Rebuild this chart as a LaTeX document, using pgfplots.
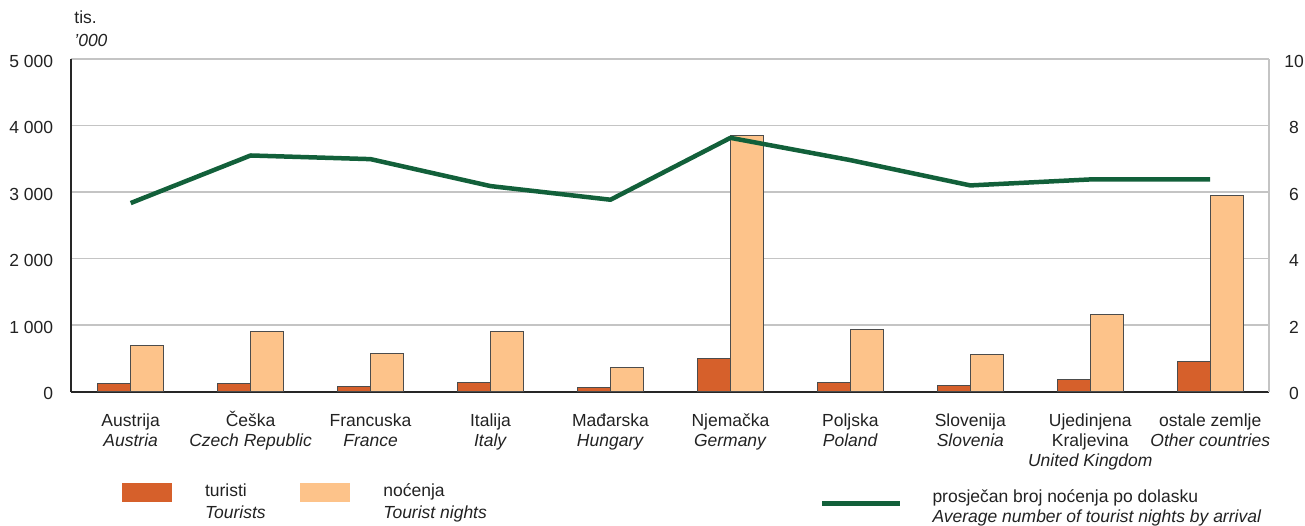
\documentclass[border=0pt]{standalone}
\usepackage{fontspec}
\setmainfont{Liberation Sans}
\usepackage{pgfplots}
\pgfplotsset{compat=1.18}
\definecolor{tourist}{HTML}{D6602B}
\definecolor{nights}{HTML}{FDC38A}
\definecolor{avgline}{HTML}{12603A}
\definecolor{gridgray}{HTML}{C4C4C4}
\definecolor{txt}{HTML}{222222}
\newcommand\fl{\rule{0pt}{17pt}}
\newcommand\ld{\rule[-5pt]{0pt}{5pt}}
\begin{document}
\begin{tikzpicture}
\useasboundingbox (-70.7pt,-134.3pt) rectangle (1234.3pt,391.7pt);
\begin{axis}[
  at={(0,0)}, anchor=south west,
  scale only axis, width=1198.3pt, height=332.7pt,
  xmin=-0.5, xmax=9.49, ymin=0, ymax=5000,
  axis x line*=bottom, axis y line*=left,
  axis line style={line width=2pt, black!85, -},
  major tick length=0pt,
  ytick={0,1000,2000,3000,4000,5000},
  yticklabels={0,1 000,2 000,3 000,4 000,5 000},
  ymajorgrids, grid style={gridgray, line width=1.5pt},
  yticklabel style={font=\fontsize{17.5}{20}\selectfont, text=txt, inner sep=0pt, anchor=east, xshift=-17.4pt, yshift=-2pt},
  xtick={0,...,9},
  xticklabels={
    {\fl Austrija\\\textit{Austria}},
    {\fl Češka\\\textit{Czech Republic}},
    {\fl Francuska\\\textit{France}},
    {\fl Italija\\\textit{Italy}},
    {\fl Mađarska\\\textit{Hungary}},
    {\fl Njemačka\\\textit{Germany}},
    {\fl Poljska\\\textit{Poland}},
    {\fl Slovenija\\\textit{Slovenia}},
    {\fl Ujedinjena\\Kraljevina\\\textit{United Kingdom}},
    {\fl ostale zemlje\\\textit{Other countries}}},
  xticklabel style={font=\fontsize{17.5}{20}\selectfont, text=txt, align=center, inner sep=0pt, anchor=north, yshift=-17.3pt},
  title={tis.\\\textit{'000}},
  title style={at={(0,1)}, anchor=south west, align=left, inner sep=0pt, xshift=3.5pt, yshift=6pt, font=\fontsize{17.5}{23}\selectfont, text=txt},
  legend columns=2,
  legend cell align=left,
  legend style={at={(0,0)}, anchor=north west, xshift=51.3pt, yshift=-87.8pt,
    draw=none, fill=none, inner sep=0pt, outer sep=0pt,
    nodes={inner sep=0pt, align=left, font=\fontsize{17.5}{22}\selectfont, text=txt},
    /tikz/every odd column/.append style={column sep=33pt},
    /tikz/every even column/.append style={column sep=34.8pt}},
  legend image code/.code={\fill[#1, draw=none] (0pt,-2.5pt) rectangle (50pt,16.5pt);},
]
\addplot[ybar, bar width=33pt, bar shift=-16.5pt, fill=tourist, draw=black!70, line width=0.8pt]
  coordinates {(0,120) (1,127) (2,80) (3,145) (4,62) (5,500) (6,133) (7,90) (8,180) (9,457)};
\addlegendentry{\fl turisti\\\textit{Tourists}\ld}
\addplot[ybar, bar width=33pt, bar shift=16.5pt, fill=nights, draw=black!70, line width=0.8pt]
  coordinates {(0,690) (1,905) (2,570) (3,905) (4,360) (5,3845) (6,930) (7,560) (8,1160) (9,2945)};
\addlegendentry{\fl noćenja\\\textit{Tourist nights}\ld}
\end{axis}
\begin{axis}[
  at={(0,0)}, anchor=south west,
  scale only axis, width=1198.3pt, height=332.7pt,
  xmin=-0.5, xmax=9.49, ymin=0, ymax=10,
  axis x line=none, xtick=\empty,
  axis y line*=right,
  y axis line style={gridgray, line width=1.5pt, -},
  major tick length=0pt,
  ytick={0,2,4,6,8,10},
  yticklabels={0,2,4,6,8,10},
  yticklabel style={font=\fontsize{17.5}{20}\selectfont, text=txt, inner sep=0pt, anchor=center, xshift=25pt, yshift=-2pt},
  legend cell align=left,
  legend style={at={(0,0)}, anchor=north west, xshift=749.3pt, yshift=-93.8pt,
    draw=none, fill=none, inner sep=0pt, outer sep=0pt,
    nodes={inner sep=0pt, align=left, font=\fontsize{17.5}{20}\selectfont, text=txt},
    /tikz/every odd column/.append style={column sep=30pt}},
  legend image code/.code={\draw[#1] (0pt,1pt) -- (78pt,1pt);},
]
\addplot[avgline, line width=4.5pt, line join=round]
  coordinates {(0,5.67) (1,7.10) (2,6.99) (3,6.18) (4,5.77) (5,7.63) (6,6.96) (7,6.20) (8,6.38) (9,6.38)};
\addlegendentry{\fl prosječan broj noćenja po dolasku\\\textit{Average number of tourist nights by arrival}\ld}
\end{axis}
\end{tikzpicture}
\end{document}
